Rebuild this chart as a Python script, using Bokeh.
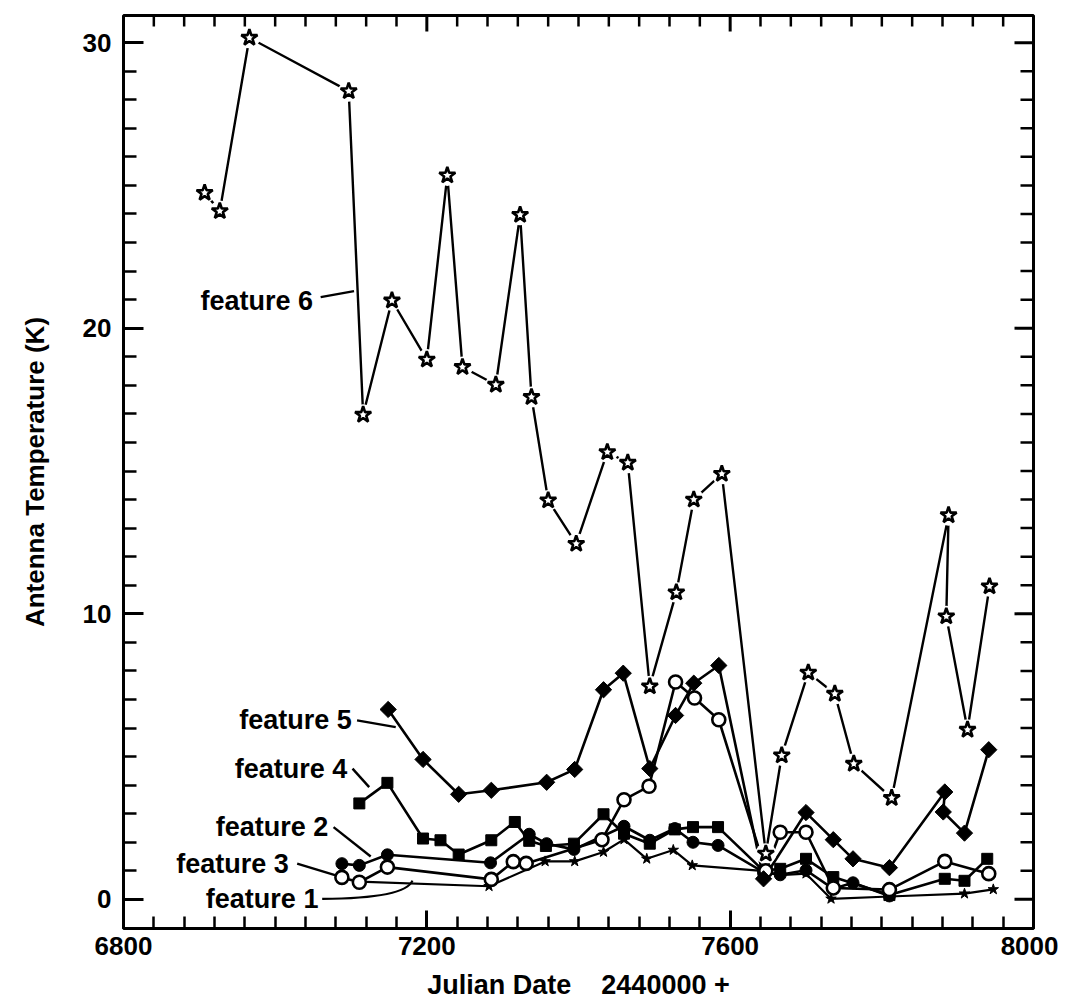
import math
from bokeh.plotting import figure
from bokeh.models import Range1d, FixedTicker, Label
from bokeh.embed import file_html
from bokeh.resources import INLINE

# ---------------- data ----------------
f6_x = [6907, 6927, 6966, 7097, 7116, 7154, 7200, 7227, 7247, 7291, 7323, 7338, 7360, 7397,
        7438, 7465, 7494, 7529, 7552, 7589, 7647, 7668, 7703, 7738, 7763, 7813, 7888, 7885,
        7913, 7942]
f6_y = [24.74, 24.10, 30.17, 28.30, 16.97, 20.97, 18.90, 25.35, 18.64, 18.02, 23.97, 17.59,
        13.97, 12.45, 15.66, 15.29, 7.46, 10.75, 14.00, 14.90, 1.60, 5.04, 7.94, 7.20, 4.75,
        3.55, 13.45, 9.91, 5.94, 10.96]

f5_x = [7149, 7195, 7242, 7285, 7358, 7395, 7433, 7459, 7494, 7528, 7552, 7585, 7644, 7700,
        7736, 7762, 7810, 7883, 7881, 7909, 7941]
f5_y = [6.65, 4.90, 3.68, 3.82, 4.10, 4.55, 7.34, 7.92, 4.58, 6.44, 7.57, 8.19, 0.72, 3.04,
        2.09, 1.42, 1.11, 3.76, 3.06, 2.32, 5.24]

f4_x = [7111, 7148, 7195, 7218, 7242, 7285, 7316, 7335, 7357, 7394, 7433, 7460, 7494, 7527,
        7551, 7584, 7644, 7666, 7700, 7736, 7810, 7883, 7909, 7939]
f4_y = [3.36, 4.08, 2.13, 2.07, 1.57, 2.07, 2.71, 2.05, 1.87, 1.95, 2.98, 2.30, 1.95, 2.45,
        2.53, 2.53, 1.00, 1.07, 1.42, 0.78, 0.15, 0.72, 0.65, 1.42]

f3_x = [7088, 7111, 7148, 7285, 7314, 7331, 7431, 7460, 7493, 7528, 7553, 7585, 7647, 7666,
        7700, 7736, 7810, 7883, 7941]
f3_y = [0.77, 0.60, 1.13, 0.70, 1.32, 1.26, 2.09, 3.49, 3.96, 7.61, 7.05, 6.29, 1.00, 2.35,
        2.35, 0.40, 0.34, 1.33, 0.90]

f2_x = [7088, 7111, 7148, 7284, 7335, 7358, 7394, 7460, 7494, 7527, 7551, 7584, 7644, 7666,
        7700, 7736, 7762, 7810]
f2_y = [1.25, 1.19, 1.56, 1.28, 2.28, 1.95, 1.75, 2.56, 2.07, 2.48, 2.00, 1.89, 0.95, 0.86,
        1.02, 0.37, 0.58, 0.12]

f1_x = [7111, 7282, 7356, 7395, 7433, 7460, 7490, 7525, 7550, 7642, 7666, 7700, 7733, 7810,
        7909, 7947]
f1_y = [0.62, 0.46, 1.33, 1.33, 1.66, 2.10, 1.42, 1.73, 1.19, 1.00, 0.85, 0.90, 0.02, 0.10,
        0.20, 0.35]

x_major = [6800, 7200, 7600, 8000]
y_major = [0, 10, 20, 30]
x_minor = list(range(6800, 8001, 40))
y_minor = list(range(0, 31))

labels = ["feature 6", "feature 5", "feature 4", "feature 2", "feature 3", "feature 1"]

FONT = "Liberation Sans"
X0, X1 = 6800, 8000
Y0, Y1 = -1.02, 30.95

p = figure(frame_width=910, frame_height=913,
           x_range=Range1d(X0, X1), y_range=Range1d(Y0, Y1),
           output_backend="svg", toolbar_location=None,
           min_border_left=123, min_border_right=25, min_border_top=15, min_border_bottom=70,
           x_axis_label="Julian Date\u00a0\u00a0\u00a0\u00a02440000\u00a0+",
           y_axis_label="Antenna Temperature (K)")
p.grid.visible = False
p.outline_line_color = "black"
p.outline_line_width = 3
p.background_fill_color = "white"
p.border_fill_color = "white"


def style_axis(ax, maj, mnr):
    ax.axis_line_color = None
    ax.major_tick_in = maj
    ax.major_tick_out = 0
    ax.minor_tick_in = mnr
    ax.minor_tick_out = 0
    ax.major_tick_line_width = 3
    ax.minor_tick_line_width = 2.5
    ax.major_tick_line_color = "black"
    ax.minor_tick_line_color = "black"
    ax.major_label_text_font = FONT
    ax.major_label_text_font_style = "bold"
    ax.major_label_text_color = "black"
    ax.major_label_text_font_size = "26px"
    ax.axis_label_text_font = FONT
    ax.axis_label_text_font_style = "bold"
    ax.axis_label_text_color = "black"


xa = p.xaxis[0]
xa.ticker = FixedTicker(ticks=x_major, minor_ticks=x_minor)
style_axis(xa, 18, 12)
xa.major_label_standoff = 8
xa.axis_label_standoff = 12
xa.axis_label_text_font_size = "27px"

ya = p.yaxis[0]
ya.ticker = FixedTicker(ticks=y_major, minor_ticks=y_minor)
style_axis(ya, 20, 13)
ya.major_label_standoff = 12
ya.axis_label_standoff = 30
ya.axis_label_text_font_size = "26px"

# inward ticks on the top and right edges of the frame
tx_min = [v for v in x_minor if v not in x_major]
ty_min = [v for v in y_minor if v not in y_major and Y0 < v < Y1]
p.ray(x=x_major, y=[Y1] * len(x_major), length=16, length_units="screen",
      angle=-math.pi / 2, line_color="black", line_width=3)
p.ray(x=tx_min, y=[Y1] * len(tx_min), length=11, length_units="screen",
      angle=-math.pi / 2, line_color="black", line_width=2.5)
p.ray(x=[X1] * len(y_major), y=y_major, length=19, length_units="screen",
      angle=math.pi, line_color="black", line_width=3)
p.ray(x=[X1] * len(ty_min), y=ty_min, length=13, length_units="screen",
      angle=math.pi, line_color="black", line_width=2.5)

LW = 2.6
series = [(f1_x, f1_y, 2.2), (f2_x, f2_y, LW), (f4_x, f4_y, LW), (f3_x, f3_y, LW),
          (f5_x, f5_y, LW), (f6_x, f6_y, 2.4)]
for xs, ys, lw in series:
    p.line(xs, ys, line_color="black", line_width=lw)

# white halos around the open stars (gaps between line and marker)
p.scatter(f6_x, f6_y, marker="circle", size=21, fill_color="white", line_color=None)

p.scatter(f1_x, f1_y, marker="star", size=11, fill_color="black", line_color="black", line_width=1)
p.scatter(f2_x, f2_y, marker="circle", size=12, fill_color="black", line_color="black", line_width=1)
p.scatter(f4_x, f4_y, marker="square", size=11, fill_color="black", line_color="black", line_width=1)
p.scatter(f3_x, f3_y, marker="circle", size=13, fill_color="white", line_color="black", line_width=2.6)
p.scatter(f5_x, f5_y, marker="square", size=11.5, angle=math.pi / 4, fill_color="black",
          line_color="black", line_width=1)
p.scatter(f6_x, f6_y, marker="star", size=17, fill_color="white", line_color="black", line_width=2.6)

# feature labels with leader lines
lab_x = [7050, 7101, 7095, 7070, 7018, 7057]
lab_y = [20.97, 6.27, 4.58, 2.53, 1.25, 0.02]
for t, lx, ly in zip(labels, lab_x, lab_y):
    p.add_layout(Label(x=lx, y=ly, text=t, text_align="right", text_baseline="middle",
                       text_font=FONT, text_font_style="bold", text_font_size="27px",
                       text_color="black"))

p.segment(x0=[7060, 7108, 7102, 7077, 7029], y0=[21.09, 6.27, 4.58, 2.53, 1.25],
          x1=[7104, 7159, 7124, 7126, 7080], y1=[21.30, 6.03, 3.93, 1.50, 0.84],
          line_color="black", line_width=2.4)
p.quadratic(x0=[7062], y0=[0.02], x1=[7181], y1=[0.66], cx=[7172], cy=[0.04],
            line_color="black", line_width=2.2)

html = file_html(p, INLINE, title="Antenna Temperature")
html = html.replace("</head>", "<style>html,body{overflow:hidden;}</style></head>", 1)
open("out.html", "w").write(html)
